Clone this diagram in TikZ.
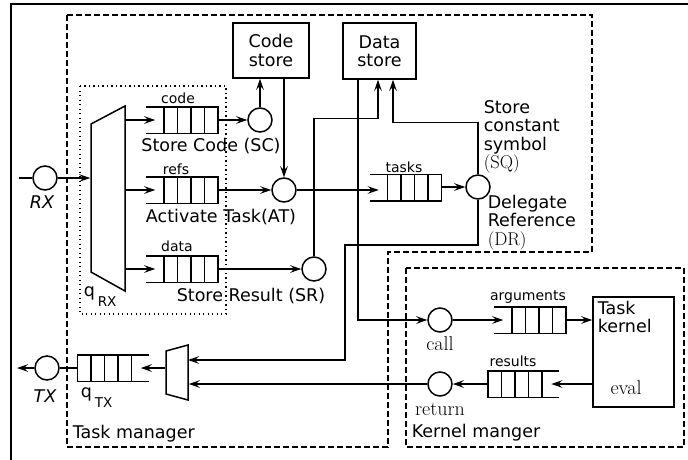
\documentclass[tikz,border=0pt]{standalone}
\usepackage{fontspec}
\newfontfamily\dv{DejaVu Sans}
\usetikzlibrary{arrows.meta,calc}
\newcommand\qopenleft[3]{%
  \node[qbox] (#1) at (#2,#3) {};
  \draw (#1.north west) -- (#1.north east) -- (#1.south east) -- (#1.south west);
  \foreach \k in {1,...,4} \draw ([xshift={-13.5*\k}]#1.north east) -- ([xshift={-13.5*\k}]#1.south east);
  \coordinate (#1-in) at ([xshift=9]#1.west);
}
\newcommand\qopenright[3]{%
  \node[qbox] (#1) at (#2,#3) {};
  \draw (#1.north east) -- (#1.north west) -- (#1.south west) -- (#1.south east);
  \foreach \k in {1,...,4} \draw ([xshift={13.5*\k}]#1.north west) -- ([xshift={13.5*\k}]#1.south west);
  \coordinate (#1-in) at ([xshift=-8]#1.east);
}
\begin{document}
\begin{tikzpicture}[x=1pt,y=-1pt,line width=1.5pt,
  >={Stealth[length=11pt,width=7.5pt,inset=4pt]},
  big/.style={font=\dv\fontsize{17.5}{18.5}\selectfont,inner sep=0pt},
  small/.style={font=\dv\fontsize{14}{15}\selectfont,inner sep=0pt},
  ser/.style={font=\rmfamily\fontsize{20}{21}\selectfont,inner sep=0pt},
  port/.style={circle,draw,minimum size=24pt,inner sep=0pt},
  storebox/.style={draw,align=center,inner sep=0pt,font=\dv\fontsize{17.5}{18.5}\selectfont},
  qbox/.style={minimum width=70pt,minimum height=25pt,inner sep=0pt},
  region/.style={line width=1.2pt,dash pattern=on 6pt off 3pt},
  muxbox/.style={minimum width=#1,inner sep=0pt}]
\useasboundingbox (0,0) rectangle (688,459);
% outer frame (cropped)
\draw[line width=2.2pt] (11,470) -- (11,4) -- (700,4);
% regions
\draw[region] (67,15) -- (592,15) -- (592,252) -- (388,252) -- (388,447) -- (67,447) -- cycle;
\draw[region] (406,268) rectangle (684,447);
\draw[line width=1.2pt,dash pattern=on 1.2pt off 3.3pt] (80,86) rectangle (226,314);
% stores
\node[storebox,minimum width=76pt,minimum height=55pt] (cstore) at (271,50.5) {Code\\store};
\node[storebox,minimum width=73pt,minimum height=56pt] (dstore) at (379.5,51) {Data\\store};
\node[draw,minimum width=81pt,minimum height=110pt,inner sep=0pt] (kernel) at (633.5,352) {};
\node[big,anchor=north west,align=left] (ktext) at (597,300) {Task\\kernel};
\node[ser] (leval) at (626,388) {eval};
% muxes
\node[minimum width=34pt,minimum height=185pt,inner sep=0pt] (muxrx) at (108,199) {};
\draw (91,124) -- (125,106) -- (125,291) -- (91,272) -- cycle;
\node[minimum width=22pt,minimum height=55pt,inner sep=0pt] (muxtx) at (177,372.5) {};
\draw (166,351) -- (188,345) -- (188,400) -- (166,394) -- cycle;
% ports
\node[port] (rx) at (45,178) {};
\node[port] (sc) at (260,120) {};
\node[port] (at) at (284,190) {};
\node[port] (sr) at (314,269) {};
\node[port] (sqdr) at (478,187) {};
\node[port] (call) at (440,320) {};
\node[port] (ret) at (440,384) {};
\node[port] (tx) at (47,368) {};
\coordinate (rxin) at (19,178);
\coordinate (txout) at (17,368);
\coordinate (muxtxin) at (188,360);
% queues
\qopenleft{qcode}{182}{120}
\qopenleft{qrefs}{182}{190}
\qopenleft{qdata}{182}{269}
\qopenleft{qtasks}{405.5}{187.5}
\qopenleft{qargs}{530}{320}
\qopenright{qres}{523.5}{384}
\qopenright{qtx}{113}{368}
% queue labels
\node[small] at (178,98) {code};
\node[small] at (176,169) {refs};
\node[small] at (177,246) {data};
\node[small] at (404,167) {tasks};
\node[small] at (528,297) {arguments};
\node[small] at (513,361) {results};
% port labels
\node[font=\dv\itshape\fontsize{17.5}{18.5}\selectfont,inner sep=0pt] at (42,202) {RX};
\node[font=\dv\itshape\fontsize{17.5}{18.5}\selectfont,inner sep=0pt] at (45,396) {TX};
\node[big] at (211,146) {Store Code (SC)};
\node[big] at (221,217) {Activate Task(AT)};
\node[big] at (251,296) {Store Result (SR)};
\node[big,anchor=north west,align=left] at (483,99.5) {Store\\constant\\symbol\\{\rmfamily\fontsize{18.5}{18.5}\selectfont(SQ)}};
\node[big,anchor=north west,align=left] at (487,194) {Delegate\\Reference\\{\rmfamily\fontsize{18.5}{18.5}\selectfont(DR)}};
\node[ser] at (440,343.5) {call};
\node[ser] at (440,409) {return};
\node[big,anchor=base west] at (83,296) {q\,\raisebox{-10pt}{\fontsize{13.5}{14}\selectfont RX}};
\node[big,anchor=base west] at (80,397) {q\,\raisebox{-10pt}{\fontsize{13.5}{14}\selectfont TX}};
\node[big,anchor=west] at (72,434) {Task manager};
\node[big,anchor=west] at (411,433) {Kernel manger};
% connectors
\draw (rxin) -- (rx);
\draw[->] (rx) -- (rx -| muxrx.west);
\draw[->] (qcode -| muxrx.east) -- (qcode-in);
\draw[->] (qrefs -| muxrx.east) -- (qrefs-in);
\draw[->] (qdata -| muxrx.east) -- (qdata-in);
\draw[->] (qcode.east) -- (sc);
\draw[->] (sc) -- (sc |- cstore.south);
\draw[->] (at |- cstore.south) -- (at);
\draw[->] (qrefs.east) -- (at);
\draw[->] (at) -- (at -| qtasks-in);
\draw[->] (qtasks.east |- sqdr) -- (sqdr);
\draw[->] (qdata.east) -- (sr);
\draw[->] (sr.north) -- ++(0,-138) -| ($(dstore.south)+(-1.5,0)$);
\draw[->] (sqdr.north) -- ++(0,-52) -| ($(dstore.south)+(13.5,0)$);
\draw[->] (sqdr.south) |- (345,245) |- (muxtxin);
\draw[->] ($(dstore.south)+(-21.5,0)$) |- (call);
\draw[->] (call) -- (qargs-in);
\draw[->] (qargs.east) -- (qargs.east -| kernel.west);
\draw[->] (kernel.west |- qres) -- (qres-in);
\draw[->] (qres.west) -- (ret);
\draw[->] (ret) -- (ret -| muxtx.east);
\draw[->] (muxtx.west |- qtx) -- (qtx-in);
\draw (qtx.west) -- (tx);
\draw[->] (tx) -- (txout);
\end{tikzpicture}
\end{document}
